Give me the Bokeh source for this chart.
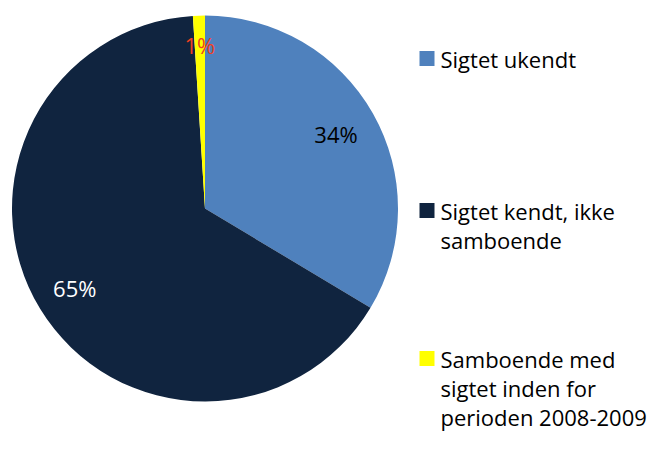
import math
from bokeh.plotting import figure
from bokeh.models import Range1d, ColumnDataSource
from bokeh.core.properties import value
from bokeh.embed import file_html
from bokeh.resources import INLINE

# ---- data ----
categories = ["Sigtet ukendt", "Sigtet kendt, ikke samboende",
              "Samboende med sigtet inden for perioden 2008-2009"]
legend_lines = [["Sigtet ukendt"],
                ["Sigtet kendt, ikke", "samboende"],
                ["Samboende med", "sigtet inden for", "perioden 2008-2009"]]
shares = [33.6, 65.4, 1.0]          # percent
pct_labels = ["34%", "65%", "1%"]

# ---- style ----
colors = ["#4F81BD", "#10243F", "#FFFF00"]
label_colors = ["#000000", "#FFFFFF", "#F0401E"]
label_rfrac = [0.78, 0.79, 0.85]
FONT = "Open Sans"
FS = "22px"

W, H = 653, 436
def dx(x):  # picture x -> data x
    return x
def dy(y):  # picture y -> data y
    return H - y

p = figure(width=W, height=H, output_backend="svg", toolbar_location=None,
           x_range=Range1d(0, W), y_range=Range1d(0, H),
           x_axis_location=None, y_axis_location=None, min_border=0)
p.grid.visible = False
p.outline_line_color = None
p.background_fill_color = "white"

cx, cy, R = dx(204.5), dy(208), 193.0

total = sum(shares)
starts, ends, lx, ly = [], [], [], []
acc = 0.0
for i, s in enumerate(shares):
    t0 = acc / total * 2 * math.pi
    acc += s
    t1 = acc / total * 2 * math.pi
    starts.append(math.pi / 2 - t1)
    ends.append(math.pi / 2 - t0)
    tm = (t0 + t1) / 2
    r = R * label_rfrac[i]
    lx.append(cx + r * math.sin(tm))
    ly.append(cy + r * math.cos(tm))

src = ColumnDataSource(dict(start=starts, end=ends, color=colors,
                            cat=categories, lx=lx, ly=ly, lab=pct_labels,
                            lcol=label_colors))
p.wedge(x=cx, y=cy, radius=R, start_angle="start", end_angle="end",
        fill_color="color", line_color=None, source=src)
p.text(x="lx", y="ly", text="lab", text_color="lcol", source=src,
       text_font=value(FONT), text_font_size=FS,
       text_align="center", text_baseline="middle")

# ---- legend ----
sq = 15
leg_x = dx(419)
item_mid = [58, 210, 358]   # picture y of square centres
line_h = 29
tx, ty, tt = [], [], []
for i, lines in enumerate(legend_lines):
    mid = item_mid[i]
    p.rect(x=leg_x + sq / 2, y=dy(mid), width=sq, height=sq,
           fill_color=colors[i], line_color=None)
    for j, ln in enumerate(lines):
        tx.append(leg_x + 21)
        ty.append(dy(mid + j * line_h))
        tt.append(ln)
p.text(x=tx, y=ty, text=tt, text_color="#000000", text_font=value(FONT),
       text_font_size=FS, text_align="left", text_baseline="middle")

open("out.html", "w").write(file_html(p, INLINE))
